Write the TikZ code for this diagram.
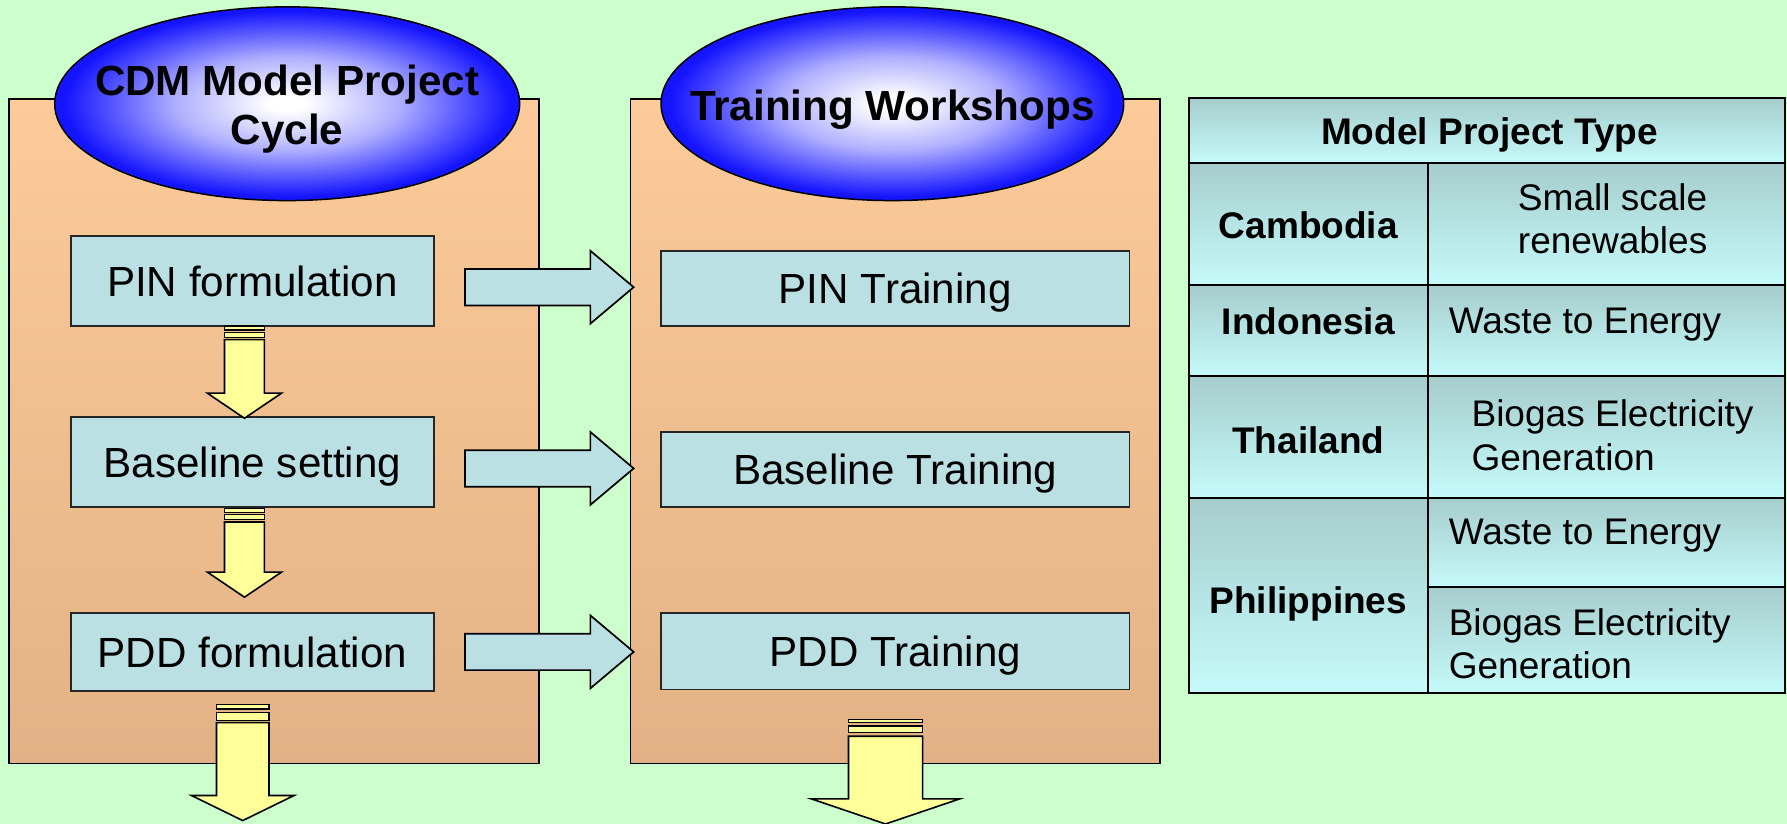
\documentclass[tikz,border=0pt]{standalone}
\usepackage{fontspec}
\setmainfont{Liberation Sans}
\usetikzlibrary{shapes.geometric}
\definecolor{bgGreen}{RGB}{204,255,204}
\definecolor{panTop}{RGB}{253,203,153}
\definecolor{panBot}{RGB}{226,178,134}
\definecolor{eblue}{RGB}{20,20,255}
\definecolor{emid}{RGB}{175,175,255}
\definecolor{boxFill}{RGB}{187,224,228}
\definecolor{yel}{RGB}{255,255,153}
\definecolor{cellTop}{RGB}{166,205,205}
\definecolor{cellBot}{RGB}{198,250,250}
\pgfdeclareradialshading{ellblue}{\pgfpoint{0bp}{0bp}}{color(0bp)=(white); color(2bp)=(white); color(12bp)=(emid); color(24bp)=(eblue); color(50bp)=(eblue)}
\tikzset{
  panel/.style={draw=black, line width=1.3pt, top color=panTop, bottom color=panBot},
  oval/.style={draw=black, line width=1.3pt, shading=ellblue},
  ovaltxt/.style={inner sep=0pt, font=\bfseries\fontsize{37}{43}\selectfont, align=center},
  stepbox/.style={draw=black!85, line width=1.5pt, fill=boxFill, inner sep=0pt,
    font=\fontsize{37}{44}\selectfont, text height=26.5pt, text depth=0pt},
  blockarrow/.style={draw=black, line width=1.5pt, fill=boxFill, line join=miter},
  downarrow/.style={draw=black, line width=1.4pt, fill=yel, line join=miter},
  cell/.style={draw=black, line width=1.6pt, top color=cellTop, bottom color=cellBot},
  celltxt/.style={font=\fontsize{32.5}{38}\selectfont, align=left, inner sep=0pt},
  cellhead/.style={font=\bfseries\fontsize{32.5}{38}\selectfont, align=center, inner sep=0pt}
}
\newcommand\dnarrow[9]{%
  \draw[downarrow, line width=1.1pt] (#1-#2,#4) rectangle (#1+#2,#5);
  \draw[downarrow, line width=1.1pt] (#1-#2,#6) rectangle (#1+#2,#7);
  \draw[downarrow] (#1-#2,#8) -- (#1+#2,#8) -- (#1+#2,#9) -- (#1+#3,#9) -- (#1,#9+22)
     -- (#1-#3,#9) -- (#1-#2,#9) -- cycle;}
\newcommand\rtarrow[1]{%
  \draw[blockarrow] (408,#1-16) -- (518,#1-16) -- (518,#1-32) -- (556,#1)
     -- (518,#1+32) -- (518,#1+16) -- (408,#1+16) -- cycle;}
\begin{document}
\begin{tikzpicture}[x=1pt,y=-1pt]
\useasboundingbox (0,0) rectangle (1568,723);
\fill[bgGreen] (0,0) rectangle (1568,723);
% panels
\draw[panel] (8,87) rectangle (473,670);
\draw[panel] (553,87) rectangle (1018,670);
% ovals
\draw[oval] (252,91) ellipse [x radius=204pt, y radius=85pt];
\draw[oval] (783,91) ellipse [x radius=203pt, y radius=85pt];
\node[ovaltxt] (cdm) at (252,96) {CDM Model Project\\Cycle};
\node[ovaltxt] (tw) at (783,96) {Training Workshops};
% left boxes
\node[stepbox, minimum width=319pt, minimum height=79pt] (pinf) at (221.5,246.5) {PIN formulation};
\node[stepbox, minimum width=319pt, minimum height=79pt] (basef) at (221.5,405.5) {Baseline setting};
\node[stepbox, minimum width=319pt, minimum height=68pt] (pddf) at (221.5,572) {PDD formulation};
% right boxes
\node[stepbox, minimum width=411pt, minimum height=66pt] (pint) at (785.5,253) {PIN Training};
\node[stepbox, minimum width=411pt, minimum height=66pt] (baset) at (785.5,412) {Baseline Training};
\node[stepbox, minimum width=411pt, minimum height=67pt] (pddt) at (785.5,571.5) {PDD Training};
% right block arrows
\rtarrow{252}
\rtarrow{411}
\rtarrow{572}
% striped down arrows
\dnarrow{214.5}{17.5}{32.5}{286}{289.5}{291.5}{296}{298}{345}
\dnarrow{214.5}{17.5}{32.5}{446}{449.5}{451.5}{456}{458}{502}
\dnarrow{213}{23}{45}{618}{622}{625}{632}{634}{698}
\dnarrow{777}{32.5}{65}{631}{634}{637}{643}{646}{701}
% table
\draw[cell] (1043,86) rectangle (1566,143);
\draw[cell] (1043,143) rectangle (1253,250);
\draw[cell] (1253,143) rectangle (1566,250);
\draw[cell] (1043,250) rectangle (1253,330);
\draw[cell] (1253,250) rectangle (1566,330);
\draw[cell] (1043,330) rectangle (1253,437);
\draw[cell] (1253,330) rectangle (1566,437);
\draw[cell] (1043,437) rectangle (1253,608);
\draw[cell] (1253,437) rectangle (1566,515);
\draw[cell] (1253,515) rectangle (1566,608);
\draw[line width=2pt] (1043,86) rectangle (1566,608);
\node[cellhead] (thead) at (1307,118) {Model Project Type};
\node[cellhead] (kh) at (1148,198) {Cambodia};
\node[cellhead] (id) at (1148,282) {Indonesia};
\node[cellhead] (th) at (1148,386) {Thailand};
\node[cellhead] (ph) at (1148,530) {Philippines};
\node[celltxt, align=center] (khp) at (1415,192) {Small scale\\renewables};
\node[celltxt, anchor=west] (idp) at (1271,285) {Waste to Energy};
\node[celltxt, anchor=west] (thp) at (1291,382) {Biogas Electricity\\Generation};
\node[celltxt, anchor=west] (php1) at (1271,470) {Waste to Energy};
\node[celltxt, anchor=west] (php2) at (1271,565) {Biogas Electricity\\Generation};
\end{tikzpicture}
\end{document}
